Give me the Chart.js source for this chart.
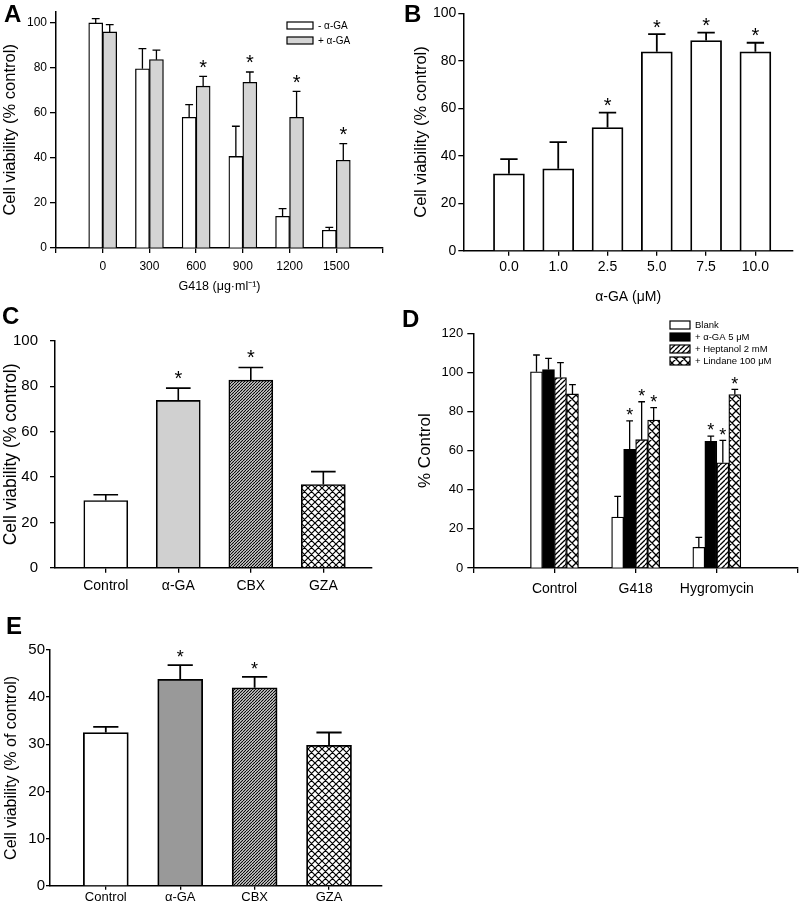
<!DOCTYPE html>
<html>
<head>
<meta charset="utf-8">
<script src="https://cdn.jsdelivr.net/npm/chart.js@4.4.1/dist/chart.umd.min.js"></script>
<style>
  body { margin: 0; background: #fff; }
  #page { position: relative; width: 806px; height: 912px; overflow: hidden; }
  canvas { position: absolute; }
  .tag { position: absolute; font: bold 24px "Liberation Sans", Arial, sans-serif; line-height: 24px; color: #000; }
</style>
</head>
<body>
<div id="page">
  <canvas id="pA"></canvas>
  <canvas id="pB"></canvas>
  <canvas id="pC"></canvas>
  <canvas id="pD"></canvas>
  <canvas id="pE"></canvas>
  <div class="tag" style="left:4px;top:2px">A</div>
  <div class="tag" style="left:404px;top:2px">B</div>
  <div class="tag" style="left:2px;top:304px">C</div>
  <div class="tag" style="left:402px;top:307px">D</div>
  <div class="tag" style="left:6px;top:614px">E</div>
</div>
<script>
const FONT = '"Liberation Sans", Arial, sans-serif';

// ---- A: G418 dose, without / with alpha-GA
const aCats = ['0', '300', '600', '900', '1200', '1500'];
const aMinus = [100, 79.6, 58.1, 40.7, 14.1, 7.9];
const aMinusSd = [1.9, 9.0, 5.6, 13.4, 3.4, 1.3];
const aPlus = [96, 83.7, 71.9, 73.6, 58.1, 39];
const aPlusSd = [3.3, 4.2, 4.4, 4.6, 11.5, 7.4];
const aPlusStar = [0, 0, 1, 1, 1, 1];
const aYTicks = [0, 20, 40, 60, 80, 100];

// ---- B: alpha-GA dose
const bCats = ['0.0', '1.0', '2.5', '5.0', '7.5', '10.0'];
const bVals = [32.4, 34.5, 51.9, 83.8, 88.5, 83.8];
const bSd = [6.2, 11.2, 6.3, 7.4, 3.4, 3.8];
const bStar = [0, 0, 1, 1, 1, 1];
const bYTicks = [0, 20, 40, 60, 80, 100];

// ---- C: gap junction blockers
const cCats = ['Control', '\u03b1-GA', 'CBX', 'GZA'];
const cVals = [29.6, 73.8, 82.8, 36.7];
const cSd = [2.6, 5.4, 5.5, 5.7];
const cStar = [0, 1, 1, 0];
const cYTicks = [0, 20, 40, 60, 80, 100];

// ---- D: blockers vs antibiotics
const dCats = ['Control', 'G418', 'Hygromycin'];
const dSeries = ['Blank', '+ \u03b1-GA 5 \u03bcM', '+ Heptanol 2 mM', '+ Lindane 100 \u03bcM'];
const dBlank = [100.3, 26, 10.6];
const dBlankSd = [8.6, 10.6, 5.1];
const dGA = [101.5, 60.7, 64.8];
const dGASd = [5.7, 14.5, 2.6];
const dHept = [97.4, 65.6, 53.8];
const dHeptSd = [7.6, 19.4, 11.5];
const dLind = [89, 75.6, 88.7];
const dLindSd = [4.8, 6.4, 2.6];
const dBlankStar = [0, 0, 0];
const dOtherStar = [0, 1, 1];
const dYTicks = [0, 20, 40, 60, 80, 100, 120];

// ---- E
const eCats = ['Control', '\u03b1-GA', 'CBX', 'GZA'];
const eVals = [32.5, 43.8, 42, 29.8];
const eSd = [1.2, 3.0, 2.3, 2.7];
const eStar = [0, 1, 1, 0];
const eYTicks = [0, 10, 20, 30, 40, 50];

// hatch fills
function hatch(size, lw, bg, cross) {
  const c = document.createElement('canvas');
  c.width = c.height = size;
  const g = c.getContext('2d');
  g.fillStyle = bg;
  g.fillRect(0, 0, size, size);
  g.strokeStyle = '#000';
  g.lineWidth = lw;
  g.beginPath();
  for (const o of [-size, 0, size]) {
    g.moveTo(o, size); g.lineTo(o + size, 0);
    if (cross) { g.moveTo(o, 0); g.lineTo(o + size, size); }
  }
  g.stroke();
  return g.createPattern(c, 'repeat');
}
const dense = hatch(3, 1.1, '#e6e6e6', false);
const wide = hatch(5, 1.3, '#fff', false);
const cross6 = hatch(7, 1.2, '#fff', true);
const cross8 = hatch(8, 1.3, '#fff', true);

// error bars + stars
const errStars = {
  id: 'errStars',
  afterDatasetsDraw(chart, args, o) {
    const ctx = chart.ctx, y = chart.scales.y;
    chart.data.datasets.forEach((ds, di) => {
      chart.getDatasetMeta(di).data.forEach((bar, i) => {
        const top = y.getPixelForValue(ds.data[i].y + ds.sd[i]);
        const half = bar.width * 0.28;
        ctx.save();
        ctx.strokeStyle = '#000';
        ctx.lineWidth = o.lw;
        ctx.beginPath();
        ctx.moveTo(bar.x, bar.y); ctx.lineTo(bar.x, top);
        ctx.moveTo(bar.x - half, top); ctx.lineTo(bar.x + half, top);
        ctx.stroke();
        if (ds.stars && ds.stars[i]) {
          ctx.fillStyle = '#000';
          ctx.font = o.starSize + 'px ' + FONT;
          ctx.textAlign = 'center';
          ctx.textBaseline = 'alphabetic';
          ctx.fillText('*', bar.x, top - o.starGap + 0.573 * o.starSize);
        }
        ctx.restore();
      });
    });
  }
};

// small boxed legend inside the plot
const boxLegend = {
  id: 'boxLegend',
  afterDraw(chart, args, o) {
    if (!o || !o.show) return;
    const ctx = chart.ctx;
    chart.data.datasets.forEach((ds, i) => {
      const yy = o.y + i * o.row;
      ctx.save();
      ctx.fillStyle = ds.backgroundColor;
      ctx.fillRect(o.x, yy, o.w, o.h);
      ctx.strokeStyle = '#000';
      ctx.lineWidth = 1.2;
      ctx.strokeRect(o.x, yy, o.w, o.h);
      ctx.fillStyle = '#000';
      ctx.font = o.fs + 'px ' + FONT;
      ctx.textBaseline = 'middle';
      ctx.fillText(ds.label, o.tx, yy + o.h / 2 + 0.5);
      ctx.restore();
    });
  }
};

function panel(id, box, area, c) {
  const cv = document.getElementById(id);
  cv.width = box.w; cv.height = box.h;
  cv.style.left = box.x + 'px'; cv.style.top = box.y + 'px';
  const legend = c.legend ? Object.assign({ show: true }, c.legend, {
    x: c.legend.x - box.x, y: c.legend.y - box.y, tx: c.legend.tx - box.x
  }) : { show: false };
  new Chart(cv, {
    type: 'bar',
    data: {
      datasets: c.series.map(s => ({
        label: s.label,
        data: s.values.map((v, i) => ({ x: i, y: v })),
        sd: s.sd,
        stars: s.stars,
        backgroundColor: s.fill,
        borderColor: '#000',
        borderWidth: c.bw,
        barThickness: c.barW,
      })),
    },
    options: {
      responsive: false,
      animation: false,
      events: [],
      layout: { padding: { top: area.t - box.y, right: box.x + box.w - area.r, left: 0, bottom: 0 } },
      plugins: {
        legend: { display: false },
        tooltip: { enabled: false },
        errStars: { lw: c.bw, starSize: c.starSize, starGap: c.starGap },
        boxLegend: legend,
      },
      scales: {
        x: {
          type: 'linear',
          min: c.xMin, max: c.xMax,
          offset: false,
          afterBuildTicks: s => { s.ticks = c.xTicks.map(v => ({ value: v })); },
          afterFit: s => { s.height = box.y + box.h - area.b; },
          grid: { display: true, drawOnChartArea: false, drawTicks: true, tickLength: c.xTl, color: '#000', lineWidth: 1.3, offset: false },
          border: { display: true, color: '#000', width: 1.5 },
          ticks: {
            autoSkip: false, maxRotation: 0, padding: c.xPad, color: '#000',
            font: { family: FONT, size: c.xFs },
            callback: v => c.cats[v] ?? '',
          },
          title: c.xTitle ? {
            display: true, text: c.xTitle, color: '#000',
            font: { family: FONT, size: c.xTitleFs }, padding: { top: 0, bottom: c.xTitlePad },
          } : { display: false },
        },
        y: {
          min: 0, max: c.yMax,
          afterBuildTicks: s => { s.ticks = c.yTicks.map(v => ({ value: v })); },
          afterFit: s => { s.width = area.l - box.x; },
          grid: { display: true, drawOnChartArea: false, drawTicks: true, tickLength: c.yTl, color: '#000', lineWidth: 1.3 },
          border: { display: true, color: '#000', width: 1.5 },
          ticks: { padding: c.yPad, color: '#000', font: { family: FONT, size: c.yFs } },
          title: {
            display: true, text: c.yTitle, color: '#000',
            font: { family: FONT, size: c.yTitleFs }, padding: { top: c.yTitlePad, bottom: 0 },
          },
        },
      },
    },
    plugins: [errStars, boxLegend],
  });
}

panel('pA', { x: 0, y: 0, w: 400, h: 300 }, { l: 56, t: 11.7, r: 383, b: 248 }, {
  cats: aCats, xMin: -1, xMax: 6, xTicks: [-1, 0, 1, 2, 3, 4, 5, 6],
  yMax: 105, yTicks: aYTicks,
  series: [
    { label: '- \u03b1-GA', values: aMinus, sd: aMinusSd, fill: '#ffffff' },
    { label: '+ \u03b1-GA', values: aPlus, sd: aPlusSd, stars: aPlusStar, fill: '#d4d4d4' },
  ],
  barW: 14, bw: 1.3, starSize: 20, starGap: 14,
  xTl: 5, xPad: 6, xFs: 12, yTl: 6, yPad: 3, yFs: 12,
  yTitle: 'Cell viability (% control)', yTitleFs: 16.5, yTitlePad: 0.5,
  xTitle: 'G418 (\u03bcg\u00b7ml\u207b\u00b9)', xTitleFs: 12.5, xTitlePad: 5.6,
  legend: { x: 287, y: 22, w: 26, h: 7, row: 15, tx: 318, fs: 10 },
});

panel('pB', { x: 400, y: 0, w: 406, h: 310 }, { l: 463.3, t: 13.3, r: 793, b: 250.7 }, {
  cats: bCats, xMin: -0.926, xMax: 5.763, xTicks: [0, 1, 2, 3, 4, 5],
  yMax: 100, yTicks: bYTicks,
  series: [{ label: '\u03b1-GA', values: bVals, sd: bSd, stars: bStar, fill: '#ffffff' }],
  barW: 31, bw: 1.8, starSize: 20, starGap: 12,
  xTl: 5, xPad: 3.3, xFs: 14, yTl: 5, yPad: 2, yFs: 14,
  yTitle: 'Cell viability (% control)', yTitleFs: 16.5, yTitlePad: 11.8,
  xTitle: '\u03b1-GA (\u03bcM)', xTitleFs: 14, xTitlePad: 4.6,
});

panel('pC', { x: 0, y: 320, w: 400, h: 280 }, { l: 55, t: 339, r: 371.7, b: 567.7 }, {
  cats: cCats, xMin: -0.70, xMax: 3.667, xTicks: [0, 1, 2, 3],
  yMax: 100, yTicks: cYTicks,
  series: [{ label: 'C', values: cVals, sd: cSd, stars: cStar, fill: ['#ffffff', '#d0d0d0', dense, cross6] }],
  barW: 44, bw: 1.6, starSize: 20, starGap: 15,
  xTl: 5, xPad: 4.6, xFs: 14, yTl: 5, yPad: 12, yFs: 15,
  yTitle: 'Cell viability (% control)', yTitleFs: 17.5, yTitlePad: 0.2,
});

panel('pD', { x: 400, y: 315, w: 406, h: 285 }, { l: 473.3, t: 333.3, r: 800, b: 568 }, {
  cats: dCats, xMin: -1, xMax: 3, xTicks: [-1, 0, 1, 2, 3],
  yMax: 120, yTicks: dYTicks,
  series: [
    { label: dSeries[0], values: dBlank, sd: dBlankSd, stars: dBlankStar, fill: '#ffffff' },
    { label: dSeries[1], values: dGA, sd: dGASd, stars: dOtherStar, fill: '#000000' },
    { label: dSeries[2], values: dHept, sd: dHeptSd, stars: dOtherStar, fill: wide },
    { label: dSeries[3], values: dLind, sd: dLindSd, stars: dOtherStar, fill: cross8 },
  ],
  barW: 12, bw: 1.3, starSize: 18, starGap: 10,
  xTl: 5, xPad: 8, xFs: 14, yTl: 6, yPad: 4, yFs: 13,
  yTitle: '% Control', yTitleFs: 17, yTitlePad: 14.8,
  legend: { x: 670, y: 321, w: 20, h: 8, row: 12, tx: 695, fs: 9.5 },
});

panel('pE', { x: 0, y: 630, w: 400, h: 282 }, { l: 50, t: 650, r: 381.7, b: 885.7 }, {
  cats: eCats, xMin: -0.75, xMax: 3.708, xTicks: [0, 1, 2, 3],
  yMax: 50, yTicks: eYTicks,
  series: [{ label: 'E', values: eVals, sd: eSd, stars: eStar, fill: ['#ffffff', '#999999', dense, cross6] }],
  barW: 45, bw: 1.8, starSize: 18, starGap: 12,
  xTl: 4, xPad: 0, xFs: 13, yTl: 4, yPad: 1, yFs: 15,
  yTitle: 'Cell viability (% of control)', yTitleFs: 16, yTitlePad: 2,
});
</script>
</body>
</html>
